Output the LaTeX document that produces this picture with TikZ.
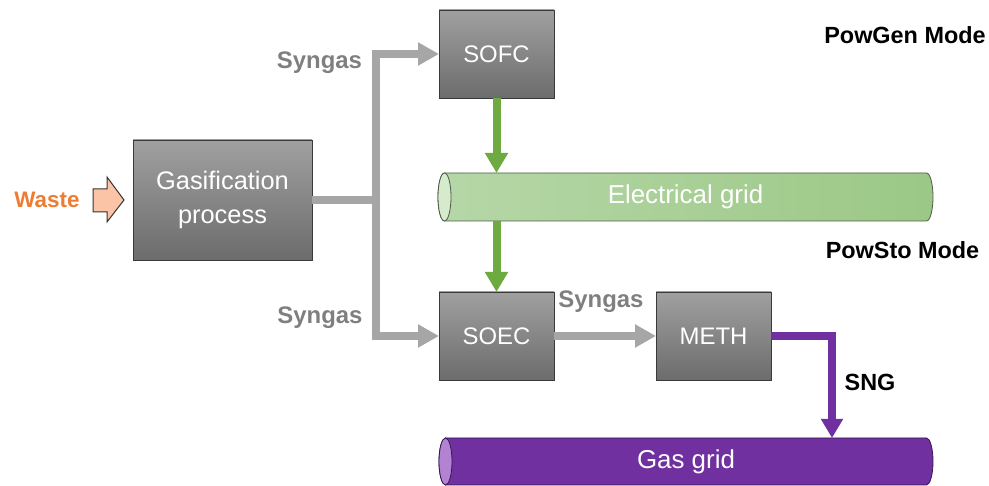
\documentclass[tikz,border=0pt]{standalone}
\usepackage{fontspec}
\setmainfont{Liberation Sans}
\usetikzlibrary{arrows.meta}
\definecolor{boxtop}{HTML}{A0A0A0}
\definecolor{boxbot}{HTML}{6C6C6C}
\definecolor{boxedge}{HTML}{3A3A3A}
\definecolor{flowgray}{HTML}{A6A6A6}
\definecolor{labelgray}{HTML}{7F7F7F}
\definecolor{flowgreen}{HTML}{6DAA3F}
\definecolor{flowpurple}{HTML}{7030A0}
\definecolor{wasteorange}{HTML}{ED7D31}
\definecolor{wastefill}{HTML}{FBC4A6}
\definecolor{elecL}{HTML}{B6D7A7}
\definecolor{elecR}{HTML}{9BC886}
\definecolor{elecend}{HTML}{D6EACC}
\definecolor{elecedge}{HTML}{4F5A4A}
\definecolor{gasend}{HTML}{B183D2}
\definecolor{gasedge}{HTML}{3A1656}
\begin{document}
\begin{tikzpicture}[x=1bp,y=1bp,
  procbox/.style={draw=boxedge, line width=0.9bp, top color=boxtop, bottom color=boxbot,
    text=white, minimum width=115bp, minimum height=88bp, inner sep=0pt, outer sep=0pt,
    font=\fontsize{24}{28}\selectfont, align=center},
  grayflow/.style={draw=flowgray, line width=8bp, -{Triangle[length=21bp,width=22bp]}},
  greenflow/.style={draw=flowgreen, line width=8bp, -{Triangle[length=20bp,width=22bp]}},
  purpleflow/.style={draw=flowpurple, line width=7.5bp, -{Triangle[length=19bp,width=21bp]}},
  graylabel/.style={text=labelgray, font=\bfseries\fontsize{24}{28}\selectfont, inner sep=0pt},
  blacklabel/.style={text=black, font=\bfseries\fontsize{23.5}{28}\selectfont, inner sep=0pt},
  gridtext/.style={text=white, font=\fontsize{26}{30}\selectfont, inner sep=0pt, outer sep=0pt}
]
\useasboundingbox (0,0) rectangle (989,486);

% process boxes
\node[procbox, minimum width=179bp, minimum height=120bp, font=\fontsize{25.5}{35}\selectfont] (gas) at (222.5,286) {Gasification\\process};
\node[procbox] (sofc) at (496.5,432) {SOFC};
\node[procbox] (soec) at (496.5,150) {SOEC};
\node[procbox] (meth) at (713.5,150) {METH};

% electrical grid cylinder
\path[left color=elecL, right color=elecR, draw=elecedge, line width=0.8bp]
  (444.5,313) -- (926.5,313) arc[start angle=90,end angle=-90,x radius=6.5bp,y radius=24bp]
  -- (444.5,265) arc[start angle=270,end angle=90,x radius=6.5bp,y radius=24bp] -- cycle;
\draw[fill=elecend, draw=elecedge, line width=0.8bp] (444.5,289) ellipse[x radius=6.5bp, y radius=24bp];
\node[gridtext, minimum width=495bp, minimum height=48bp] (elec) at (685.5,289) {Electrical grid};

% gas grid cylinder
\path[fill=flowpurple, draw=gasedge, line width=0.8bp]
  (445.5,48) -- (926.5,48) arc[start angle=90,end angle=-90,x radius=6.5bp,y radius=23.5bp]
  -- (445.5,1) arc[start angle=270,end angle=90,x radius=6.5bp,y radius=23.5bp] -- cycle;
\draw[fill=gasend, draw=gasedge, line width=0.8bp] (445.5,24.5) ellipse[x radius=6.5bp, y radius=23.5bp];
\node[gridtext, minimum width=494bp, minimum height=47bp] (ggrid) at (686,24.5) {Gas grid};

% waste input
\node[text=wasteorange, font=\bfseries\fontsize{22.5}{26}\selectfont, inner sep=0pt] (waste) at (47,286) {Waste};
\draw[fill=wastefill, draw=black!80, line width=1bp]
  (93,297) -- (107,297) -- (107,309) -- (124,286) -- (107,264) -- (107,274) -- (93,274) -- cycle;

% gray syngas flows
\coordinate (j) at (375.5,286);
\draw[grayflow] (gas.east) -- (j) |- (sofc.west);
\draw[grayflow] (j) |- (soec.west);
\draw[grayflow] (soec.east) -- (meth.west);

% green electricity flows
\draw[greenflow] (sofc.south) -- (sofc.south |- elec.north);
\draw[greenflow] (soec.north |- elec.south) -- (soec.north);

% purple SNG flow
\coordinate (sngx) at (832,150);
\draw[purpleflow] (meth.east) -- (sngx) -- (sngx |- ggrid.north);

% labels
\node[graylabel] (syntop) at (319.5,423) {Syngas};
\node[graylabel] (synbot) at (320,168) {Syngas};
\node[graylabel] (synmid) at (601,184) {Syngas};
\node[blacklabel] (sng) at (870,104) {SNG};
\node[blacklabel] (powgen) at (905,451) {PowGen Mode};
\node[blacklabel] (powsto) at (902.5,236) {PowSto Mode};
\end{tikzpicture}
\end{document}
